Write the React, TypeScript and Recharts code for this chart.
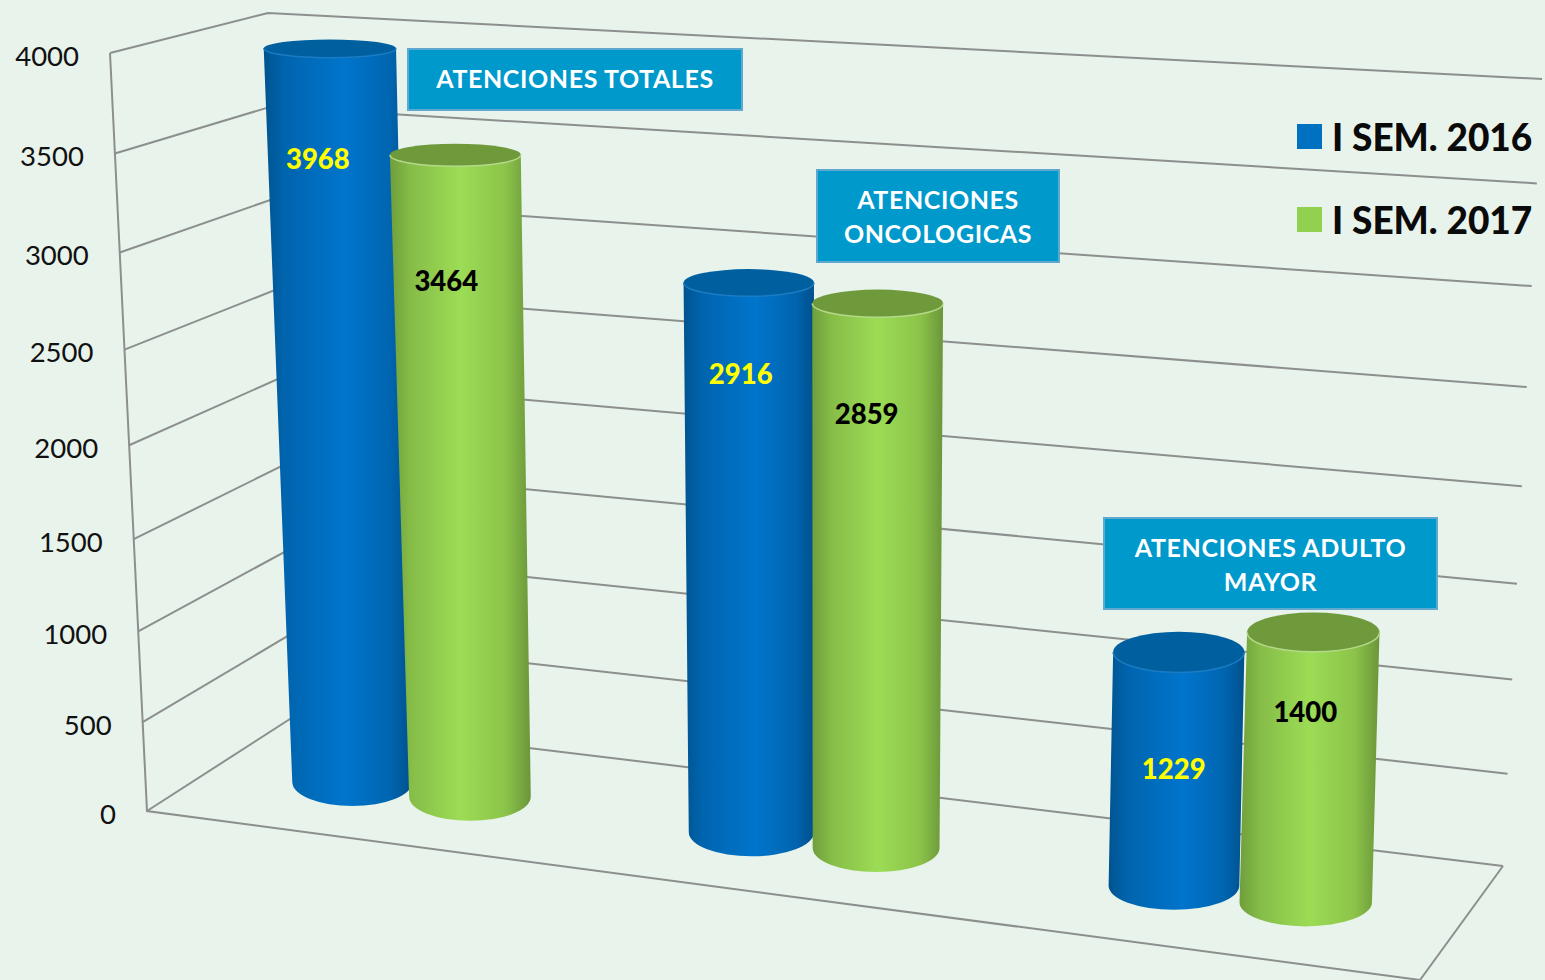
import { BarChart, Bar, XAxis, YAxis, CartesianGrid, Legend, LabelList } from "recharts"

const categories = ["ATENCIONES TOTALES", "ATENCIONES ONCOLOGICAS", "ATENCIONES ADULTO MAYOR"]
const sem2016 = [3968, 2916, 1229]
const sem2017 = [3464, 2859, 1400]
const yTicks = [0, 500, 1000, 1500, 2000, 2500, 3000, 3500, 4000]

const data = categories.map((name, i) => ({ name, sem2016: sem2016[i], sem2017: sem2017[i] }))

const W = 1545
const H = 980
const FONT = "Lato, sans-serif"
const GRID = "#8c8f8d"

type Pt = [number, number]
type Plane = { bl: Pt; br: Pt; tl: Pt; tr: Pt }

// the picture is a perspective view, so the flat chart coordinates get projected on these planes
const FL: Pt = [147, 811]
const BL: Pt = [290, 719]
const BR: Pt = [1503, 866]
const FR: Pt = [1420, 980]
const FL_TOP: Pt = [110, 53]
const BL_TOP: Pt = [268, 13]
const BR_TOP: Pt = [1542, 79]

const LEFT_WALL: Plane = { bl: FL, br: BL, tl: FL_TOP, tr: BL_TOP }
const BACK_WALL: Plane = { bl: BL, br: BR, tl: BL_TOP, tr: BR_TOP }
const BAR_PLANE: Plane = { bl: [218, 765], br: [1461, 922], tl: [189, 35], tr: [1491, 102] }

const BOXES = [
  { x: 408, y: 49, w: 334, h: 61, lines: ["ATENCIONES TOTALES"], ys: [78] },
  { x: 817, y: 170, w: 242, h: 92, lines: ["ATENCIONES", "ONCOLOGICAS"], ys: [199, 233] },
  { x: 1104, y: 518, w: 333, h: 91, lines: ["ATENCIONES ADULTO", "MAYOR"], ys: [547, 581] },
]

// hand placed value labels, relative to the top of each cylinder
const LABEL_SHIFT_2016: Pt[] = [[-12, 110], [-8, 91], [-5, 116]]
const LABEL_SHIFT_2017: Pt[] = [[-9, 126], [-11, 110], [-8, 79]]

const mix = (a: Pt, b: Pt, k: number): Pt => [a[0] + (b[0] - a[0]) * k, a[1] + (b[1] - a[1]) * k]
const project = (p: Plane, u: number, v: number): Pt => mix(mix(p.bl, p.br, u), mix(p.tl, p.tr, u), v)
const rise = (t: number) => 0.93 * t + 0.07 * t * t
const warpU = (t: number) => t - 0.085 * t * (1 - t)

function cylinder(x: number, y: number, width: number) {
  const u = warpU((x + width / 2) / W)
  const v = rise((H - y) / H)
  const base = project(BAR_PLANE, u, 0)
  const top = project(BAR_PLANE, u, v)
  const baseWidth = 118 + 16 * u
  const rxBase = (width / W) * 10 * baseWidth / 2
  const rxTop = (width / W) * 10 * (baseWidth + (132 - baseWidth) * v) / 2
  return { base, top, rxBase, rxTop, ryBase: 24, ryTop: 25 - 16 * v }
}

function cylinderShape(gradient: string, lid: string, rim: string) {
  return (props: any) => {
    const { base, top, rxBase, rxTop, ryBase, ryTop } = cylinder(props.x, props.y, props.width)
    const body = `M${top[0] - rxTop},${top[1]} L${base[0] - rxBase},${base[1]}
      A${rxBase},${ryBase} 0 0 0 ${base[0] + rxBase},${base[1]} L${top[0] + rxTop},${top[1]} Z`
    const front = `M${top[0] - rxTop},${top[1]} A${rxTop},${ryTop} 0 0 0 ${top[0] + rxTop},${top[1]}`
    return (
      <g>
        <path d={body} fill={`url(#${gradient})`} />
        <ellipse cx={top[0]} cy={top[1]} rx={rxTop} ry={ryTop} fill={lid} />
        <path d={front} fill="none" stroke={rim} strokeWidth={1.5} />
      </g>
    )
  }
}

function valueLabel(shifts: Pt[], color: string) {
  return (props: any) => {
    const { top } = cylinder(props.x, props.y, props.width)
    const shift = shifts[props.index]
    return (
      <text
        x={top[0] + shift[0]}
        y={top[1] + shift[1]}
        fill={color}
        fontFamily={FONT}
        fontWeight={900}
        fontSize={27.5}
        textAnchor="middle"
        dominantBaseline="central"
      >
        {props.value}
      </text>
    )
  }
}

function gridLine(props: any) {
  const t = (H - props.y1) / H
  const v = rise(t)
  const a = project(LEFT_WALL, 0, v)
  const b = project(LEFT_WALL, 1, v)
  const c = project(BACK_WALL, 1, v)
  const isFloor = t === 0
  return (
    <g key={props.key ?? props.index} stroke={GRID} fill="none" strokeWidth={2}>
      <polyline points={`${a} ${b} ${c}`} />
      {isFloor && <polyline points={`${FL_TOP} ${FL} ${FR} ${BR}`} />}
    </g>
  )
}

function valueTick(props: any) {
  const v = rise(props.payload.value / 4000)
  const [x, y] = project(LEFT_WALL, 0, v)
  return (
    <text x={x - 31} y={y + 2} fill="#111" fontFamily={FONT} fontSize={27.5} textAnchor="end" dominantBaseline="central">
      {props.payload.value}
    </text>
  )
}

function categoryBox(props: any) {
  const box = BOXES[props.index]
  return (
    <g>
      <rect x={box.x} y={box.y} width={box.w} height={box.h} fill="#0099cc" stroke="#5fa8cf" strokeWidth={2} />
      {box.lines.map((line, i) => (
        <text
          key={line}
          x={box.x + box.w / 2}
          y={box.ys[i]}
          fill="#fff"
          fontFamily={FONT}
          fontWeight={700}
          fontSize={25}
          letterSpacing={0.6}
          textAnchor="middle"
          dominantBaseline="central"
        >
          {line}
        </text>
      ))}
    </g>
  )
}

function legendContent(props: any) {
  return (
    <div>
      {props.payload.map((item: any) => (
        <div key={item.value} style={{ display: "flex", alignItems: "center", height: 83 }}>
          <span style={{ width: 25, height: 25, background: item.color, marginRight: 10 }} />
          <span style={{ fontFamily: FONT, fontWeight: 900, fontSize: 37, color: "#0a0a0a", whiteSpace: "nowrap" }}>
            {item.value}
          </span>
        </div>
      ))}
    </div>
  )
}

export default function App() {
  return (
    <div style={{ position: "absolute", left: 0, top: 0, width: W, height: H, background: "#e8f3ec", overflow: "hidden" }}>
      <BarChart
        width={W}
        height={H}
        data={data}
        margin={{ top: 0, right: 0, bottom: 0, left: 0 }}
        barGap={0}
        barCategoryGap="20%"
      >
        <defs>
          <linearGradient id="blueBody" x1="0" y1="0" x2="1" y2="0">
            <stop offset="0%" stopColor="#00548f" />
            <stop offset="14%" stopColor="#0064ae" />
            <stop offset="55%" stopColor="#0075cc" />
            <stop offset="85%" stopColor="#0065b0" />
            <stop offset="100%" stopColor="#00508c" />
          </linearGradient>
          <linearGradient id="greenBody" x1="0" y1="0" x2="1" y2="0">
            <stop offset="0%" stopColor="#6f9e3c" />
            <stop offset="15%" stopColor="#86bd48" />
            <stop offset="50%" stopColor="#9cdc55" />
            <stop offset="82%" stopColor="#8cc44a" />
            <stop offset="100%" stopColor="#6a963a" />
          </linearGradient>
        </defs>
        <CartesianGrid vertical={false} horizontal={gridLine} />
        <XAxis dataKey="name" mirror axisLine={false} tickLine={false} interval={0} tick={categoryBox} />
        <YAxis
          mirror
          domain={[0, 4000]}
          ticks={yTicks}
          interval={0}
          axisLine={false}
          tickLine={false}
          tick={valueTick}
        />
        <Legend
          layout="vertical"
          align="center"
          verticalAlign="middle"
          content={legendContent}
          wrapperStyle={{ left: 1297, top: 95, width: 248 }}
        />
        <Bar
          dataKey="sem2016"
          name="I SEM. 2016"
          fill="#0070c0"
          isAnimationActive={false}
          shape={cylinderShape("blueBody", "#005f9f", "#1a7cc4")}
        >
          <LabelList dataKey="sem2016" content={valueLabel(LABEL_SHIFT_2016, "#ffff00")} />
        </Bar>
        <Bar
          dataKey="sem2017"
          name="I SEM. 2017"
          fill="#92d050"
          isAnimationActive={false}
          shape={cylinderShape("greenBody", "#6f9a3b", "#b5d98a")}
        >
          <LabelList dataKey="sem2017" content={valueLabel(LABEL_SHIFT_2017, "#000000")} />
        </Bar>
      </BarChart>
    </div>
  )
}
